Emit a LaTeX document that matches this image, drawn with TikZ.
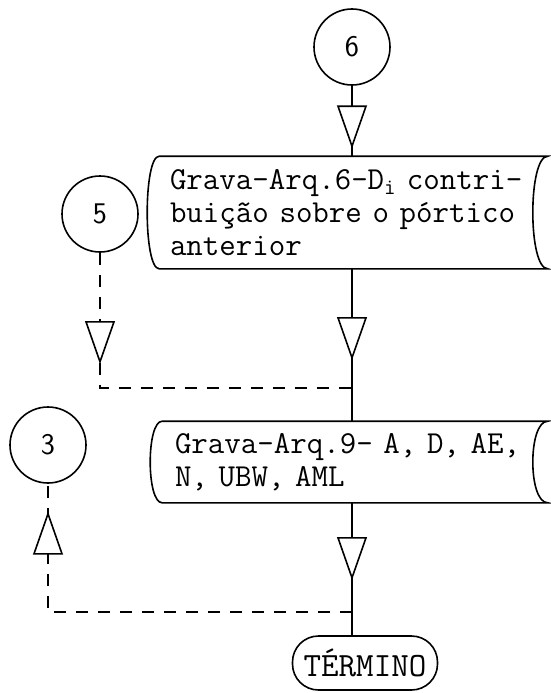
\documentclass[tikz,border=0pt]{standalone}
\usepackage{fontspec}
\usetikzlibrary{decorations.markings}

\tikzset{
  conn/.style={draw, circle, minimum size=76pt, inner sep=0pt,
    font=\sffamily\fontsize{30}{30}\selectfont},
  storebox/.style={inner xsep=#1, inner ysep=0pt, align=left,
    font=\ttfamily\fontsize{32}{33}\selectfont},
  endbox/.style={draw, rounded corners=26pt, minimum width=145pt,
    minimum height=54pt, inner sep=0pt, font=\ttfamily\fontsize{34}{34}\selectfont},
  tri/.style={postaction={decorate}, decoration={markings,
    mark=at position #1 with {\draw[solid, fill=white] (0,0) -- (-40pt,14pt) -- (-40pt,-14pt) -- cycle;}}},
  dashline/.style={dash pattern=on 12pt off 10pt},
}

\newcommand\storeshape[1]{%
  \draw (#1.north west) -- (#1.north east)
    .. controls ([xshift=-20pt]#1.north east) and ([xshift=-20pt]#1.south east) .. (#1.south east)
    -- (#1.south west)
    .. controls ([xshift=-16pt]#1.south west) and ([xshift=-16pt]#1.north west) .. (#1.north west);}

\begin{document}
\begin{tikzpicture}[x=1pt, y=-1pt, line width=1.6pt]

\useasboundingbox (0,0) rectangle (551,693);

\node[conn] (c6) at (352,47) {6};
\node[conn] (c5) at (100,214) {5};
\node[conn] (c3) at (48,445) {3};

\node[storebox=10pt, text width=367pt, minimum height=111pt] (sav6) at (353.5,212.5) {%
Grava-Arq.6-D\textsubscript{i} contri-\\
buição sobre o pórtico\\
anterior};
\storeshape{sav6}

\node[storebox=12pt, text width=360pt, minimum height=80pt] (sav9) at (355,462) {%
Grava-Arq.9- A, D, AE,\\
N, UBW, AML};
\storeshape{sav9}

\node[endbox] (fim) at (365,663) {TÉRMINO};

\coordinate (j5) at (352,388);
\coordinate (j3) at (352,612);

\draw[tri=-10pt] (c6) -- (c6 |- sav6.north);
\draw[tri=89pt] (c6 |- sav6.south) -- (c6 |- sav9.north);
\draw[dashline, tri=109pt] (c5) -- (c5 |- j5) -- (j5);
\draw[tri=75pt] (c6 |- sav9.south) -- (c6 |- fim.north);
\draw[dashline, tri=-30pt] (j3) -- (j3 -| c3) -- (c3);

\end{tikzpicture}
\end{document}
